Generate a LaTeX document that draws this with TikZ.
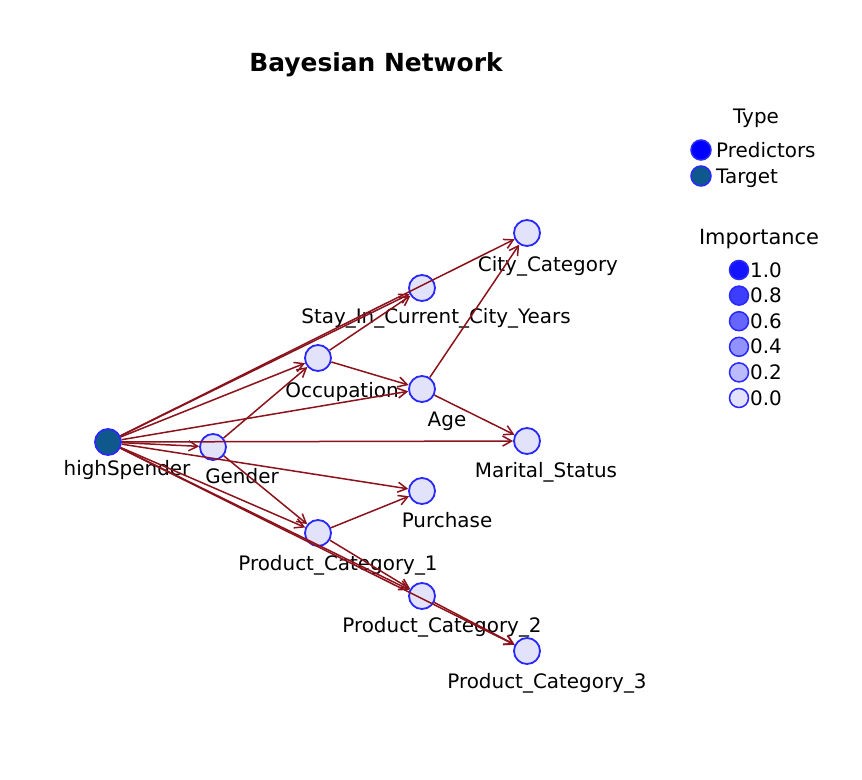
\documentclass[tikz,border=0pt]{standalone}
\usepackage{fontspec}
\setmainfont{DejaVu Sans}
\usetikzlibrary{arrows.meta}
\definecolor{edgered}{RGB}{140,18,28}
\definecolor{nodeblue}{RGB}{40,40,255}
\definecolor{nodefill}{RGB}{226,226,250}
\definecolor{targetfill}{RGB}{15,88,140}
\definecolor{impblue}{RGB}{20,20,255}

\begin{document}
\begin{tikzpicture}[x=1bp, y=-1bp,
    var/.style={circle, draw=nodeblue, line width=1.8bp, fill=nodefill,
        minimum size=26bp, inner sep=0pt},
    target/.style={var, fill=targetfill},
    keydot/.style={circle, draw=nodeblue, line width=1.5bp, minimum size=20bp, inner sep=0pt},
    lbl/.style={font=\fontsize{20}{24}\selectfont, inner sep=0pt},
    link/.style={draw=edgered, line width=1.5bp, -{Straight Barb[length=9bp,width=10bp]}}]

    \useasboundingbox[fill=white] (0,0) rectangle (862,780);

    % Title
    \node[anchor=base, inner sep=0pt, font=\bfseries\fontsize{25}{30}\selectfont]
        (title) at (376,72) {Bayesian Network};

    % The nodes of the network
    \node[target] (highSpender) at (108,442) {};
    \foreach \n/\x/\y in {gender/213/447, occupation/318/358, stay/422/288,
                          city/527/233, age/422/389, marital/527/441,
                          purchase/422/491, pcone/318/533, pctwo/422/596,
                          pcthree/527/651} {
        \node[var] (\n) at (\x,\y) {};
        }

    % Labels under the nodes (x of the middle, y of the base line)
    \foreach \n/\x/\y/\txt in {highSpender/127/475/highSpender, gender/242/483/Gender,
                               occupation/342/397/Occupation,
                               stay/436/323/Stay\_In\_Current\_City\_Years,
                               city/548/271/City\_Category, age/447/426/Age,
                               marital/546/477/Marital\_Status, purchase/447/527/Purchase,
                               pcone/338/570/Product\_Category\_1,
                               pctwo/442/632/Product\_Category\_2,
                               pcthree/547/688/Product\_Category\_3} {
        \node[lbl, anchor=base] (\n-label) at (\x,\y) {\txt};
        }

    % The target points to every predictor
    \foreach \n in {gender,occupation,stay,city,age,marital,purchase,pcone,pctwo,pcthree} {
        \draw[link] (highSpender) -- (\n);
        }

    % Links between the predictors
    \foreach \a/\b in {gender/occupation, gender/pcone, occupation/stay, occupation/age,
                       age/city, age/marital, pcone/purchase, pcone/pctwo, pctwo/pcthree} {
        \draw[link] (\a) -- (\b);
        }

    % Legend: type
    \node[lbl, anchor=base] (typeTitle) at (756,123) {Type};
    \node[keydot, fill=blue] (predDot) at (701,150) {};
    \node[lbl, anchor=base west] (predText) at (716,157) {Predictors};
    \node[keydot, fill=targetfill] (targetDot) at (701,176) {};
    \node[lbl, anchor=base west] (targetText) at (716,183) {Target};

    % Legend: importance
    \node[lbl, anchor=base, font=\fontsize{21}{24}\selectfont] (impTitle) at (759,244) {Importance};
    \foreach \v [count=\i from 0] in {1.0,0.8,0.6,0.4,0.2,0.0} {
        \pgfmathtruncatemacro\p{\v*100}
        \node[keydot, minimum size=19bp, fill=impblue!\p!nodefill] (imp\i) at (739,270+25.6*\i) {};
        \node[lbl, anchor=base west] (imp\i-text) at (750,277+25.6*\i) {\v};
        }
\end{tikzpicture}
\end{document}
